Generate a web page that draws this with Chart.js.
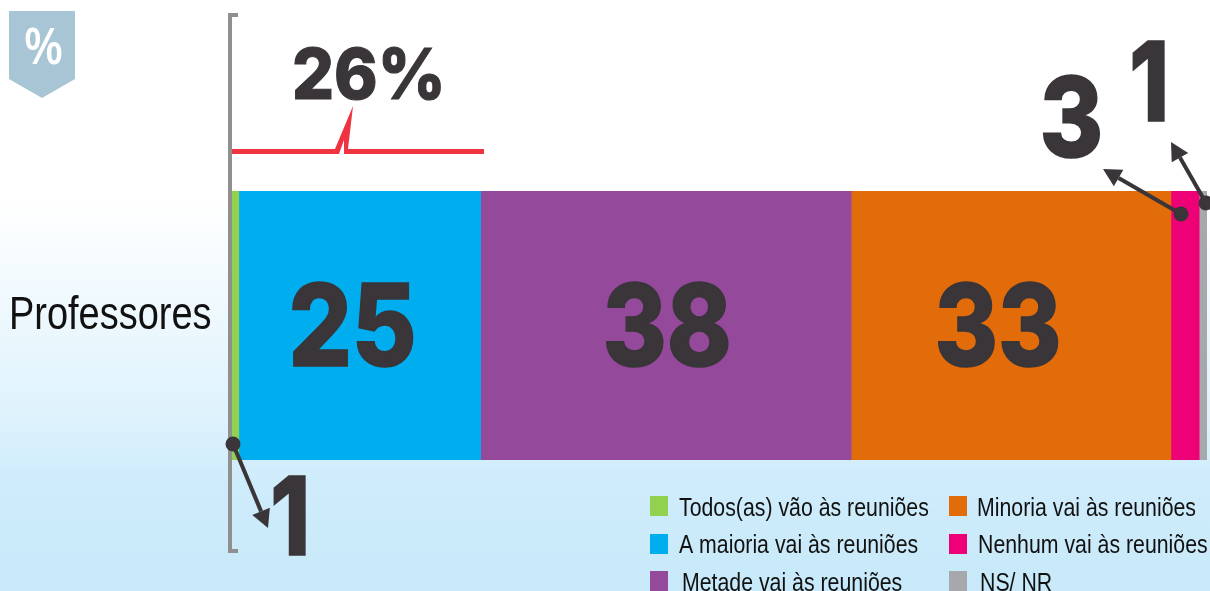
<!DOCTYPE html>
<html>
<head>
<meta charset="utf-8">
<script src="https://cdn.jsdelivr.net/npm/chart.js@4"></script>
<style>
  html, body { margin: 0; padding: 0; width: 1210px; height: 591px; overflow: hidden; }
  body { background: linear-gradient(180deg, #ffffff 0, #ffffff 200px, #ddf2fc 420px, #cfecfb 480px, #c7e9f9 591px); }
  #chart { display: block; }
</style>
</head>
<body>
<canvas id="chart" width="1210" height="591"></canvas>
<script>
  const categories = ['Professores']
  const seriesNames = [
    'Todos(as) vão às reuniões',
    'A maioria vai às reuniões',
    'Metade vai às reuniões',
    'Minoria vai às reuniões',
    'Nenhum vai às reuniões',
    'NS/ NR'
  ]
  // widths as measured on the bars, the printed numbers are the rounded ones
  const seriesValues = [0.7, 24.8, 38, 32.8, 2.9, 0.8]
  const printedValues = ['1', '25', '38', '33', '3', '1']
  const seriesColors = ['#92d14f', '#00aeef', '#95499b', '#e36c0a', '#ee0077', '#a6a8ab']
  const summaryLabel = '26%'

  const dark = '#393539'
  const heavy = '800 200px Inter, "DejaVu Sans", sans-serif'
  const plain = '"Liberation Sans", sans-serif'
  const thicken = 3

  // measureText misses part of the ink on these faces, so look at the real pixels
  function inkBox(text, font, lineWidth) {
    const c = document.createElement('canvas')
    c.width = 800
    c.height = 400
    const g = c.getContext('2d', { willReadFrequently: true })
    g.font = font
    g.lineWidth = lineWidth
    g.lineJoin = 'miter'
    g.fillText(text, 100, 300)
    if (lineWidth) g.strokeText(text, 100, 300)
    const px = g.getImageData(0, 0, 800, 400).data
    let l = 800, r = 0, t = 400, b = 0
    for (let y = 0; y < 400; y++) {
      for (let x = 0; x < 800; x++) {
        if (px[(y * 800 + x) * 4 + 3] > 128) {
          if (x < l) l = x
          if (x > r) r = x
          if (y < t) t = y
          if (y > b) b = y
        }
      }
    }
    return { left: l - 100, right: r + 1 - 100, top: t - 300, bottom: b + 1 - 300 }
  }

  // stretches a text so its ink fills the given box
  // the two factors are by eye: the scaled glyphs come out larger than the scan says
  function fitText(ctx, text, left, right, top, bottom, font, color, lineWidth = 0) {
    const ink = inkBox(text, font, lineWidth)
    const sx = 0.97 * (right - left) / (ink.right - ink.left)
    const sy = 0.905 * (bottom - top) / (ink.bottom - ink.top)
    ctx.save()
    ctx.font = font
    ctx.textAlign = 'left'
    ctx.textBaseline = 'alphabetic'
    ctx.fillStyle = color
    ctx.strokeStyle = color
    ctx.lineWidth = lineWidth
    ctx.lineJoin = 'miter'
    ctx.translate((left + right) / 2 - (ink.left + ink.right) / 2 * sx,
      (top + bottom) / 2 - (ink.top + ink.bottom) / 2 * sy)
    ctx.scale(sx, sy)
    ctx.fillText(text, 0, 0)
    if (lineWidth) ctx.strokeText(text, 0, 0)
    ctx.restore()
  }

  // stands in for the narrow face of the picture: squeezed sideways
  function narrowText(ctx, text, x, baseline, size, squeeze, color) {
    ctx.save()
    ctx.font = size + 'px ' + plain
    ctx.textAlign = 'left'
    ctx.textBaseline = 'alphabetic'
    ctx.fillStyle = color
    ctx.translate(x, baseline)
    ctx.scale(squeeze, 1)
    ctx.fillText(text, 0, 0)
    ctx.restore()
  }

  function poly(ctx, pts, color) {
    ctx.fillStyle = color
    ctx.beginPath()
    pts.forEach((p, ix) => ix ? ctx.lineTo(p[0], p[1]) : ctx.moveTo(p[0], p[1]))
    ctx.closePath()
    ctx.fill()
  }

  function arrow(ctx, x0, y0, x1, y1) {
    const a = Math.atan2(y1 - y0, x1 - x0)
    const back = 18
    const half = 9.5
    const bx = x1 - Math.cos(a) * back
    const by = y1 - Math.sin(a) * back
    ctx.strokeStyle = dark
    ctx.lineWidth = 4
    ctx.beginPath()
    ctx.moveTo(x0, y0)
    ctx.lineTo(bx, by)
    ctx.stroke()
    poly(ctx, [
      [x1, y1],
      [bx - Math.sin(a) * half, by + Math.cos(a) * half],
      [bx + Math.sin(a) * half, by - Math.cos(a) * half]
    ], dark)
    ctx.fillStyle = dark
    ctx.beginPath()
    ctx.arc(x0, y0, 7.5, 0, Math.PI * 2)
    ctx.fill()
  }

  const decorations = {
    id: 'decorations',
    beforeDatasetsDraw(chart) {
      const ctx = chart.ctx
      // axis bracket
      ctx.fillStyle = '#8f8f8f'
      ctx.fillRect(228, 13, 4, 540)
      ctx.fillRect(228, 13, 10, 4)
      ctx.fillRect(228, 549, 10, 4)
    },
    afterDatasetsDraw(chart) {
      const ctx = chart.ctx

      // corner badge
      poly(ctx, [[9, 11], [75, 11], [75, 79], [42, 98], [9, 79]], '#a7c5d5')
      fitText(ctx, '%', 25, 62, 25, 66, '600 200px "Open Sans", sans-serif', '#ffffff')

      // 26% bracket with its spike
      poly(ctx, [[232, 149], [335, 149], [353, 106], [348, 149], [484, 149], [484, 154],
        [344, 154], [344, 140], [339, 154], [232, 154]], '#ef3340')
      fitText(ctx, summaryLabel, 292, 443, 44, 103, heavy, dark, thicken)

      // category label
      narrowText(ctx, categories[0], 9, 329, 46, 0.825, '#111111')

      // numbers inside the bars
      fitText(ctx, printedValues[1], 290, 415, 277, 372, heavy, dark, thicken)
      fitText(ctx, printedValues[2], 604, 730, 277, 372, heavy, dark, thicken)
      fitText(ctx, printedValues[3], 936, 1060, 277, 372, heavy, dark, thicken)

      // small segments are called out with arrows
      fitText(ctx, printedValues[0], 273, 306, 471, 560, heavy, dark, thicken)
      fitText(ctx, printedValues[4], 1042, 1101, 70, 163, heavy, dark, thicken)
      fitText(ctx, printedValues[5], 1132, 1165, 36, 126, heavy, dark, thicken)
      arrow(ctx, 233, 444, 268, 528)
      arrow(ctx, 1181, 214, 1103, 169)
      arrow(ctx, 1206, 203, 1171, 142)

      // legend in two columns: box x, box y, text x, baseline
      const slots = [
        [650, 496, 679, 516], [650, 534, 679, 553], [650, 571, 682, 591],
        [949, 496, 977, 516], [949, 534, 978, 553], [949, 571, 980, 591]
      ]
      slots.forEach((s, ix) => {
        ctx.fillStyle = seriesColors[ix]
        ctx.fillRect(s[0], s[1], 18, 20)
        narrowText(ctx, seriesNames[ix], s[2], s[3], 25, 0.852, '#111111')
      })
    }
  }

  new Chart(document.getElementById('chart'), {
    type: 'bar',
    data: {
      labels: categories,
      datasets: seriesNames.map((name, ix) => ({
        label: name,
        data: [seriesValues[ix]],
        backgroundColor: seriesColors[ix],
        barPercentage: 1,
        categoryPercentage: 1
      }))
    },
    options: {
      indexAxis: 'y',
      responsive: false,
      animation: false,
      layout: { padding: { top: 191, bottom: 131, right: 3, left: 232 } },
      plugins: { legend: { display: false }, tooltip: { enabled: false } },
      scales: {
        x: { stacked: true, display: false, min: 0, max: 100 },
        y: { stacked: true, display: false }
      }
    },
    plugins: [decorations]
  })
</script>
</body>
</html>
